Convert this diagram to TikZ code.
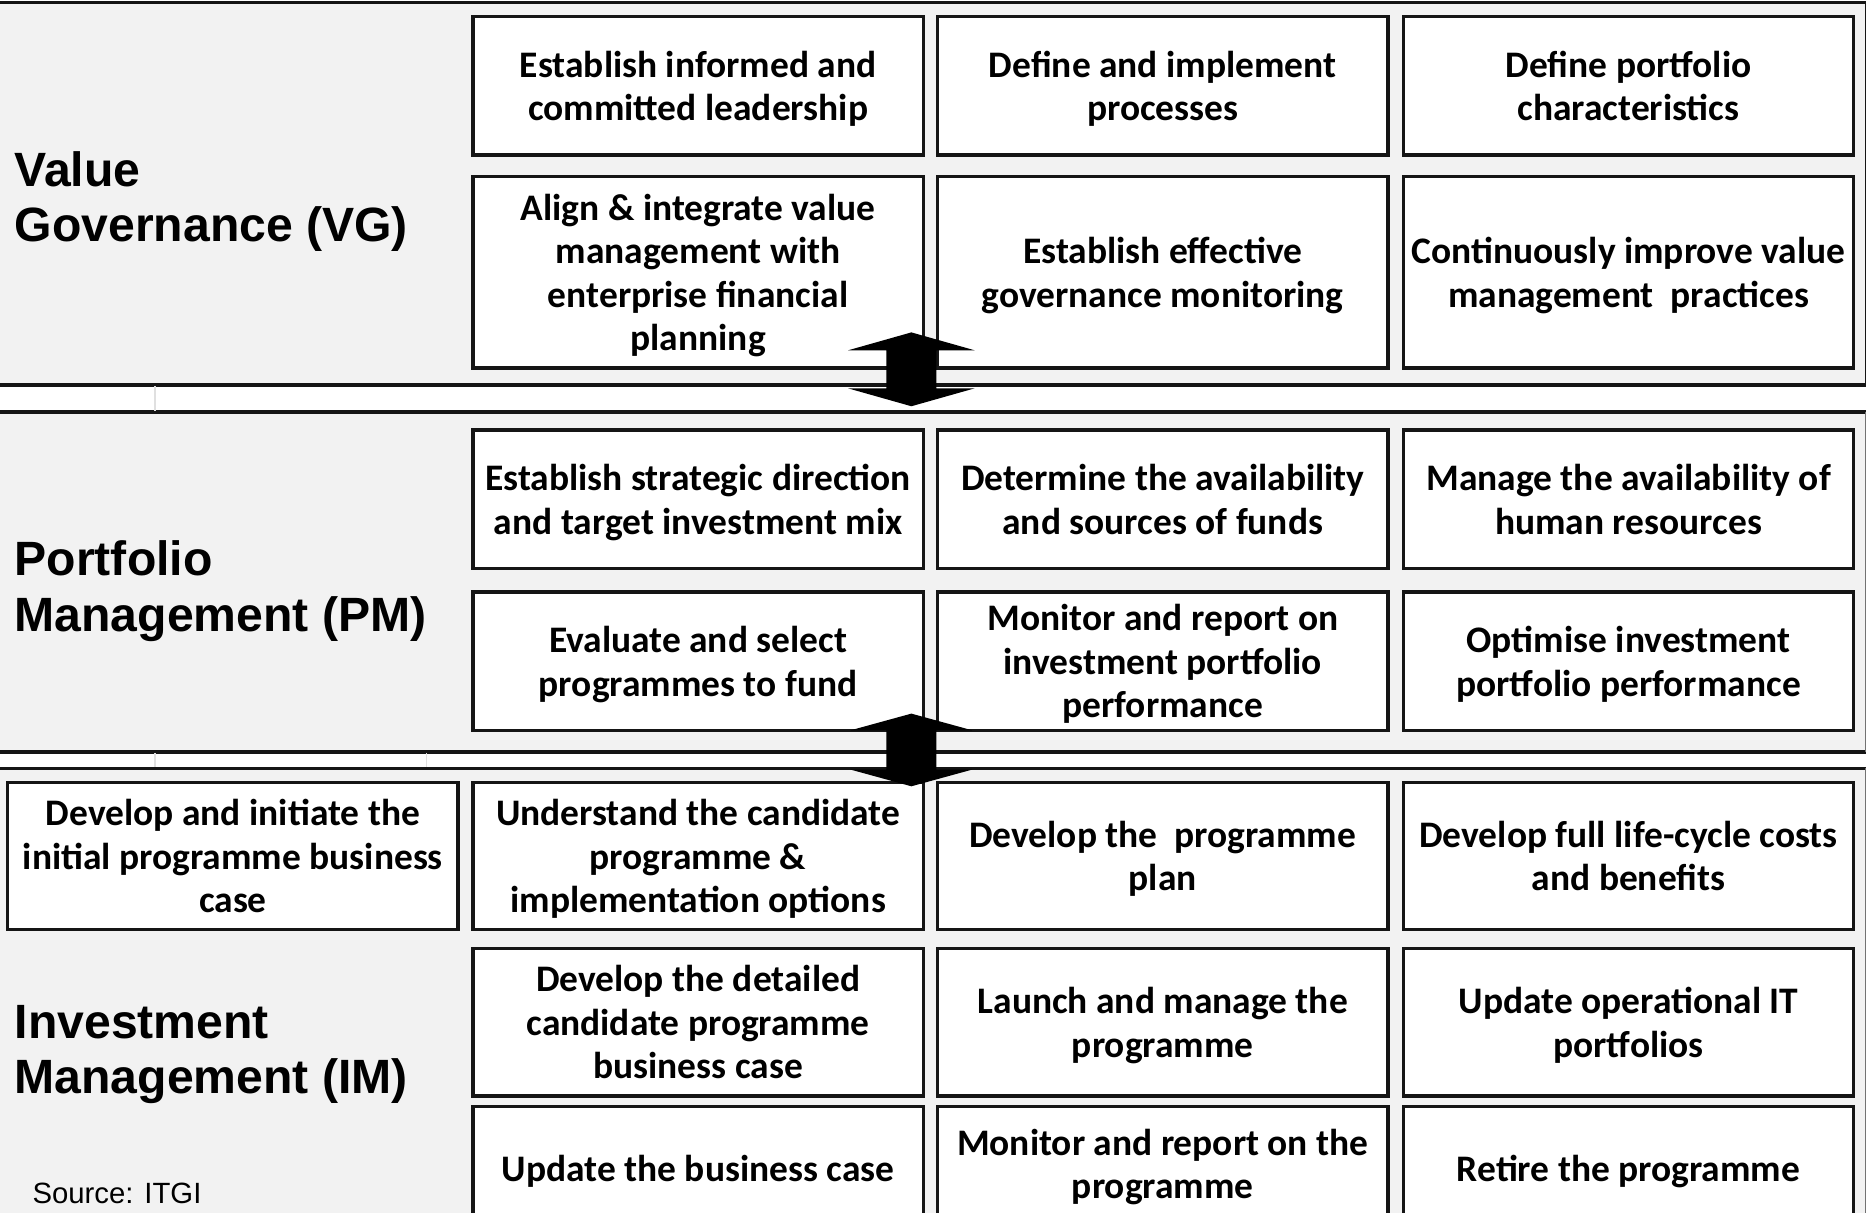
\documentclass[tikz,border=0pt]{standalone}
\usepackage{fontspec}
\newfontfamily\carlito{Carlito}
\newfontfamily\arialfont{Liberation Sans}
\definecolor{bandgray}{HTML}{F2F2F2}
\definecolor{edge}{HTML}{151515}
\tikzset{
  bandline/.style={line width=1.7pt, draw=edge},
  faint/.style={draw=black!12, line width=0.8pt},
  box/.style={draw=edge, fill=white, line width=1.6pt, minimum width=7.56cm,
    minimum height=#1, inner sep=0pt, align=center, text depth=0pt,
    execute at begin node={\rule{0pt}{17.2pt}}, execute at end node=\strut,
    font=\carlito\bfseries\fontsize{17.9}{20.8}\selectfont},
  group/.style={anchor=base west, align=left, inner sep=0pt,
    font=\arialfont\bfseries\fontsize{23}{26.5}\selectfont},
}
\begin{document}
\begin{tikzpicture}[x=0.02cm, y=-0.02cm]
\useasboundingbox (0,0) rectangle (1568,1018);
\clip (0,0) rectangle (1568,1018);
\fill[white] (0,0) rectangle (1568,1018);

\fill[bandgray] (-10,2) rectangle (1566,323);
\fill[bandgray] (-10,346) rectangle (1566,631);
\fill[bandgray] (-10,645) rectangle (1566,1040);
\draw[bandline] (-10,2) -- (1566,2);
\draw[bandline] (-10,323) -- (1566,323);
\draw[bandline] (-10,346) -- (1566,346);
\draw[bandline] (-10,631) -- (1566,631);
\draw[bandline] (-10,645) -- (1566,645);
\draw[edge, line width=0.6pt] (1566,2) -- (1566,323);
\draw[edge!60, line width=0.6pt] (1566,346) -- (1566,631);
\draw[edge!60, line width=0.6pt] (1566,645) -- (1566,1040);
\draw[faint] (130,324) -- (130,345);
\draw[faint] (130,632) -- (130,644);
\draw[faint] (358,632) -- (358,644);

\node[group] (vg) at (12,203) {Value\\Governance (VG)};
\node[group] (pm) at (12,530) {Portfolio\\Management (PM)};
\node[group] (im) at (12,918) {Investment\\Management (IM)};
\node[anchor=base west, inner sep=0pt, font=\arialfont\fontsize{14}{16}\selectfont] (src) at (27,1010) {Source: ITGI};

\node[box=2.32cm] (vg11) at (586,72) {Establish informed and\\committed leadership};
\node[box=2.32cm] (vg12) at (976,72) {Define and implement\\processes};
\node[box=2.32cm] (vg13) at (1367,72) {Define portfolio\\characteristics};
\node[box=3.22cm] (vg21) at (586,228.5) {Align \& integrate value\\management with\\enterprise financial\\planning};
\node[box=3.22cm] (vg22) at (976,228.5) {Establish effective\\governance monitoring};
\node[box=3.22cm] (vg23) at (1367,228.5) {Continuously improve value\\management~ practices};

\node[box=2.32cm] (pm11) at (586,419) {Establish strategic direction\\and target investment mix};
\node[box=2.32cm] (pm12) at (976,419) {Determine the availability\\and sources of funds};
\node[box=2.32cm] (pm13) at (1367,419) {Manage the availability of\\human resources};
\node[box=2.32cm] (pm21) at (586,555) {Evaluate and select\\programmes to fund};
\node[box=2.32cm] (pm22) at (976,555) {Monitor and report on\\investment portfolio\\performance};
\node[box=2.32cm] (pm23) at (1367,555) {Optimise investment\\portfolio performance};

\node[box=2.46cm] (im10) at (195.5,718.5) {Develop and initiate the\\initial programme business\\case};
\node[box=2.46cm] (im11) at (586,718.5) {Understand the candidate\\programme \&\\implementation options};
\node[box=2.46cm] (im12) at (976,718.5) {Develop the~ programme\\plan};
\node[box=2.46cm] (im13) at (1367,718.5) {Develop full life-cycle costs\\and benefits};
\node[box=2.48cm] (im21) at (586,858) {Develop the detailed\\candidate programme\\business case};
\node[box=2.48cm] (im22) at (976,858) {Launch and manage the\\programme};
\node[box=2.48cm] (im23) at (1367,858) {Update operational IT\\portfolios};
\node[box=1.92cm] (im31) at (586,977) {Update the business case};
\node[box=1.92cm] (im32) at (976,977) {Monitor and report on the\\programme};
\node[box=1.92cm] (im33) at (1367,977) {Retire the programme};

\coordinate (up1) at (765,279);
\coordinate (up2) at (765,599);
\fill[black] (up1) -- ++(53,15) -- ++(-32,0) -- ++(0,32) -- ++(32,0) -- ++(-53,15)
  -- ++(-53,-15) -- ++(32,0) -- ++(0,-32) -- ++(-32,0) -- cycle;
\fill[black] (up2) -- ++(51,14) -- ++(-30,0) -- ++(0,33) -- ++(30,0) -- ++(-51,14)
  -- ++(-51,-14) -- ++(30,0) -- ++(0,-33) -- ++(-30,0) -- cycle;
\end{tikzpicture}
\end{document}
